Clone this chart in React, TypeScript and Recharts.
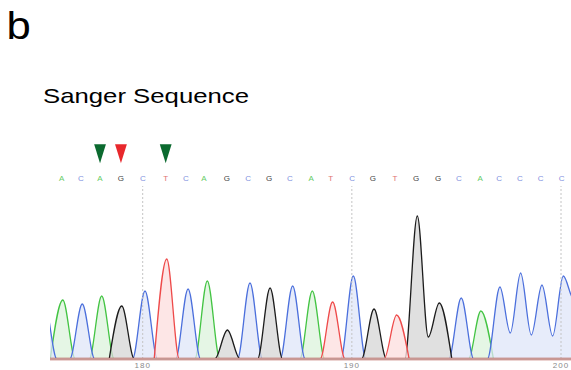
import React from 'react';
import { ComposedChart, Area, XAxis, YAxis, ReferenceLine } from 'recharts';

// Base calls shown above the trace (positions 176..200)
const callLetters = ['A', 'C', 'A', 'G', 'C', 'T', 'C', 'A', 'G', 'C', 'G', 'C', 'A', 'T', 'C', 'G', 'T', 'G', 'G', 'C', 'A', 'C', 'C', 'C', 'C'];
const callPositions = [176.13, 177.04, 177.96, 178.96, 180.01, 181.1, 182.06, 182.93, 184.02, 185.04, 186.04, 187.04, 188.05, 188.99, 190.01, 191.0, 192.06, 193.07, 194.12, 195.12, 196.13, 197.04, 198.04, 199.03, 200.03];
// Arrow markers above selected calls
const markedCalls = [2, 3, 5];
const markerColors = ['#0b6a2f', '#e8282c', '#0b6a2f'];

// Chromatogram peaks (channel, centre position, height)
const peakBases = ['C', 'A', 'C', 'A', 'G', 'C', 'T', 'C', 'A', 'G', 'C', 'G', 'C', 'A', 'T', 'C', 'G', 'T', 'G', 'G', 'C', 'A', 'C', 'C', 'C', 'C', 'C'];
const peakPositions = [175.3, 176.18, 177.11, 178.04, 179.0, 180.11, 181.15, 182.17, 183.09, 184.05, 185.13, 186.09, 187.17, 188.11, 189.08, 190.07, 191.06, 192.14, 193.13, 194.18, 195.23, 196.17, 197.08, 198.07, 199.09, 200.11, 201.1];
const peakHeights = [56, 59, 55, 63, 53, 68, 100, 70, 78, 29, 76, 71, 73, 68, 57, 83, 50, 44, 143, 56, 61, 48, 72, 86, 74, 83, 80];
// Trough height between a peak and the next one when both are in the same channel
const valleyAfter: (number | null)[] = [null, null, null, null, null, null, null, null, null, null, null, null, null, null, null, null, null, null, 22, null, null, null, 26, 24, 23, 60, null];

const positionTicks = [180, 190, 200];

const CHANNELS = ['A', 'C', 'G', 'T'];
const strokeColors: Record<string, string> = { A: '#43c443', C: '#4b6fdc', G: '#1c1c1c', T: '#ee4a4a' };
const fillColors: Record<string, string> = { A: '#dcf3dc', C: '#dfe5f8', G: '#d6d6d6', T: '#fcdede' };
const letterColors: Record<string, string> = { A: '#66cc66', C: '#7f91e0', G: '#444444', T: '#e07272' };

const FOOT = 0.6;
const X_DOMAIN: [number, number] = [175.568, 200.478];

function buildTrace() {
  const rows = new Map<number, any>();
  const put = (x: number, ch: string, v: number) => {
    const k = Math.round(x * 1000) / 1000;
    let r = rows.get(k);
    if (!r) {
      r = { pos: k };
      rows.set(k, r);
    }
    r[ch] = v;
  };
  peakBases.forEach((b, i) => {
    const prevSame = i > 0 && peakBases[i - 1] === b;
    const nextSame = i < peakBases.length - 1 && peakBases[i + 1] === b;
    if (!prevSame) put(peakPositions[i] - FOOT, b, 0);
    put(peakPositions[i], b, peakHeights[i]);
    if (nextSame) put((peakPositions[i] + peakPositions[i + 1]) / 2, b, valleyAfter[i] ?? 0);
    else put(peakPositions[i] + FOOT, b, 0);
  });
  return Array.from(rows.values()).sort((a, b) => a.pos - b.pos);
}

const trace = buildTrace();

const CallTick = (props: any) => {
  const { x, y, payload } = props;
  let idx = callPositions.indexOf(payload?.value);
  if (idx < 0) idx = props.index;
  const letter = callLetters[idx];
  const mi = markedCalls.indexOf(idx);
  return (
    <g>
      {mi >= 0 && (
        <path d={`M${x - 5.9},${y - 41.7} L${x + 5.9},${y - 41.7} L${x},${y - 22.7} Z`} fill={markerColors[mi]} />
      )}
      <text
        x={x}
        y={y - 4.8}
        textAnchor="middle"
        fontSize={8}
        fill={letterColors[letter]}
        fontFamily="'Liberation Sans', Arial, sans-serif"
      >
        {letter}
      </text>
    </g>
  );
};

export default function App() {
  return (
    <div style={{ position: 'absolute', left: 0, top: 0, width: 571, height: 370, overflow: 'hidden', background: '#fff' }}>
      <ComposedChart width={571} height={372} data={trace} margin={{ top: 0, right: 0, left: 50, bottom: 0 }}>
        <XAxis
          xAxisId="top"
          orientation="top"
          type="number"
          dataKey="pos"
          domain={X_DOMAIN}
          allowDataOverflow
          ticks={callPositions}
          interval={0}
          height={186}
          axisLine={false}
          tickLine={false}
          tickSize={0}
          tickMargin={0}
          tick={<CallTick />}
        />
        <XAxis
          xAxisId="main"
          orientation="bottom"
          type="number"
          dataKey="pos"
          domain={X_DOMAIN}
          allowDataOverflow
          ticks={positionTicks}
          interval={0}
          height={10}
          axisLine={false}
          tickLine={false}
          tickSize={0}
          tickMargin={0}
          tick={{ fontSize: 8, fill: '#8a8a8a', letterSpacing: 1, fontFamily: "'Liberation Sans', Arial, sans-serif" }}
        />
        <XAxis
          xAxisId="grey"
          orientation="bottom"
          type="number"
          dataKey="pos"
          domain={X_DOMAIN}
          allowDataOverflow
          height={3}
          tick={false}
          tickLine={false}
          axisLine={{ stroke: '#dddddd', strokeWidth: 1 }}
        />
        <YAxis hide domain={[0, 173]} allowDataOverflow />
        {positionTicks.map((t) => (
          <ReferenceLine key={t} xAxisId="main" x={t} stroke="#c4c4c4" strokeDasharray="2 2" strokeWidth={1} />
        ))}
        {CHANNELS.map((ch) => (
          <Area
            key={ch}
            xAxisId="main"
            type="monotone"
            dataKey={ch}
            connectNulls
            stroke={strokeColors[ch]}
            strokeWidth={1.3}
            fill={fillColors[ch]}
            fillOpacity={0.75}
            isAnimationActive={false}
            dot={false}
            activeDot={false}
          />
        ))}
        <ReferenceLine xAxisId="main" y={0} stroke="#b4534b" strokeWidth={2.5} />
      </ComposedChart>
      <svg width={571} height={370} style={{ position: 'absolute', left: 0, top: 0, pointerEvents: 'none' }}>
        <text x={0} y={39.3} fontSize={39} fill="#000" fontFamily="'Liberation Sans', Arial, sans-serif" transform="translate(6.5 0) scale(1.12 1)">
          b
        </text>
        <text
          x={43}
          y={103.3}
          fontSize={21}
          fill="#000"
          textLength={206}
          lengthAdjust="spacingAndGlyphs"
          fontFamily="'Liberation Sans', Arial, sans-serif"
        >
          Sanger Sequence
        </text>
      </svg>
    </div>
  );
}
